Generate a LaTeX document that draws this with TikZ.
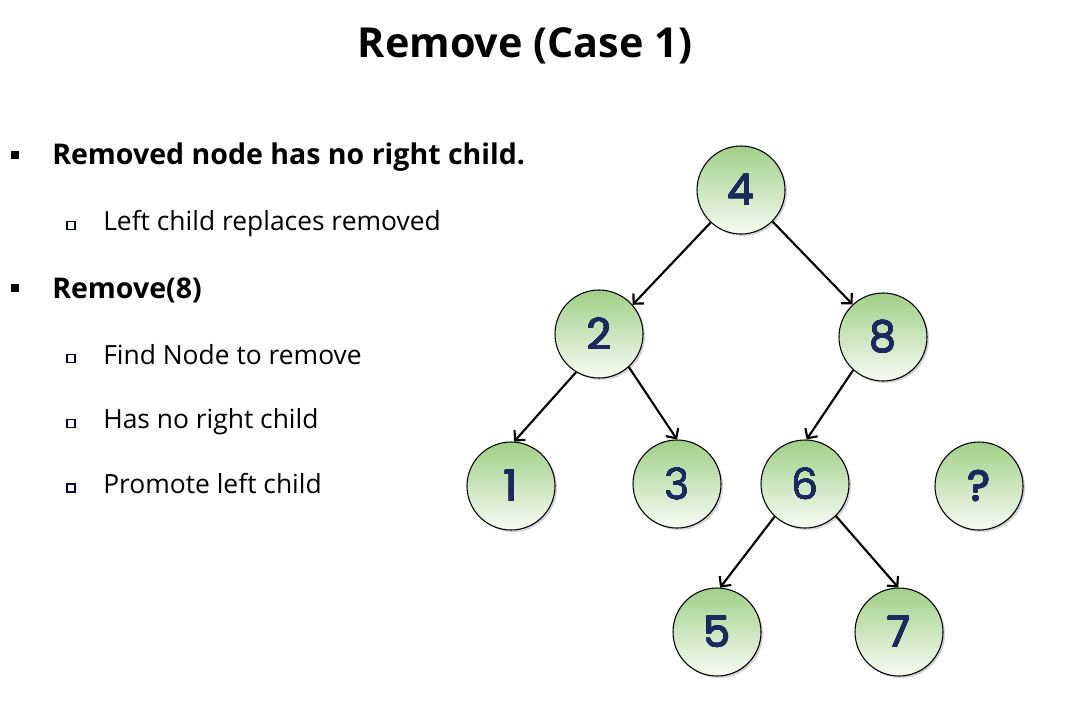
\documentclass[tikz,border=0pt]{standalone}
\usepackage{fontspec}
\usepackage[copies]{contour}
\setmainfont{Open Sans}
\newfontfamily\digitfont{Poppins}
\usetikzlibrary{arrows.meta,shadows}
\definecolor{nodegreen}{RGB}{160,208,135}
\definecolor{nodewhite}{RGB}{248,251,245}
\definecolor{digitblue}{RGB}{27,42,94}
\contourlength{0.3pt}
\contournumber{16}
\newcommand{\dg}[1]{\contour{digitblue}{#1}}
\tikzset{
  treenode/.style={circle, draw=black, line width=0.8pt, minimum size=66pt, inner sep=0pt,
    top color=nodegreen, bottom color=nodewhite,
    drop shadow={shadow xshift=1.5pt, shadow yshift=-1.5pt, opacity=0.35},
    font=\digitfont\fontsize{32}{32}\selectfont, text=digitblue},
  edge/.style={line width=1.6pt, -{Straight Barb[length=5.5pt,width=11pt,line width=1.6pt]}},
  bigbullet/.style={fill=black, minimum size=6.5pt, inner sep=0pt, draw=none},
  smallbullet/.style={draw=black!80!blue, line width=0.9pt, fill=white, minimum size=6pt, inner sep=0pt},
  boldtext/.style={anchor=base west, inner sep=0pt, font=\bfseries\fontsize{21.4}{26}\selectfont},
  subtext/.style={anchor=base west, inner sep=0pt, font=\fontsize{19.8}{23}\selectfont},
  titletext/.style={anchor=base, inner sep=0pt, font=\bfseries\fontsize{31}{38}\selectfont}
}
\begin{document}
\begin{tikzpicture}[x=0.75pt, y=-0.75pt]
\useasboundingbox (0,0) rectangle (1066,707);
\node[titletext] (title) at (525,57) {Remove (Case 1)};

\node[bigbullet] (b1) at (15,155) {};
\node[boldtext] (t1) at (52,164) {Removed node has no right child.};
\node[smallbullet] (s1) at (71,225.5) {};
\node[subtext] (t2) at (103,230) {Left child replaces removed};
\node[bigbullet] (b2) at (15,288) {};
\node[boldtext] (t3) at (52,298) {Remove(8)};
\node[smallbullet] (s2) at (71,358.5) {};
\node[subtext] (t4) at (103,364) {Find Node to remove};
\node[smallbullet] (s3) at (71,423.5) {};
\node[subtext] (t5) at (103,428) {Has no right child};
\node[smallbullet] (s4) at (71,488) {};
\node[subtext] (t6) at (103,493) {Promote left child};

\node[treenode] (n4) at (741,190) {\dg{4}};
\node[treenode] (n2) at (599,334) {\dg{2}};
\node[treenode] (n8) at (883,337) {\dg{8}};
\node[treenode] (n1) at (511,486) {\dg{1}};
\node[treenode] (n3) at (677,484) {\dg{3}};
\node[treenode] (n6) at (805,484) {\dg{6}};
\node[treenode] (nq) at (979,486) {\dg{?}};
\node[treenode] (n5) at (717,632) {\dg{5}};
\node[treenode] (n7) at (899,632) {\dg{7}};

\draw[edge] (n4.227) -- (n2.41);
\draw[edge] (n4.315) -- (n8.133);
\draw[edge] (n2.239) -- (n1.86);
\draw[edge] (n2.312) -- (n3.90);
\draw[edge] (n8.228) -- (n6.88);
\draw[edge] (n6.227) -- (n5.86);
\draw[edge] (n6.314) -- (n7.91);
\end{tikzpicture}
\end{document}
